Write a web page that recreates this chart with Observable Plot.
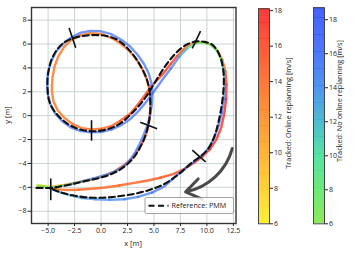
<!DOCTYPE html>
<html><head><meta charset="utf-8">
<script src="https://cdn.jsdelivr.net/npm/d3@7"></script>
<script src="https://cdn.jsdelivr.net/npm/@observablehq/plot@0.6"></script>
<style>
body{margin:0;background:#fff;}
#wrap{position:relative;width:357px;height:254px;overflow:hidden;font-family:"Open Sans",sans-serif;}
#wrap svg{position:absolute;top:0;}
</style></head><body><div id="wrap"></div>
<script>
// Reference PMM path [x, y]
const reference = [[-6.1,-6.05],[-5.4,-6.05],[-4.7,-6.05],[-4.0,-5.95],[-3.0,-5.78],[-2.0,-5.58],[-1.0,-5.38],[0.0,-5.18],[1.0,-4.88],[1.8,-4.52],[2.5,-4.05],[3.1,-3.5],[3.6,-2.8],[4.05,-2.0],[4.35,-1.2],[4.55,-0.4],[4.65,0.45],[4.65,1.35],[4.55,2.25],[4.3,3.1],[3.9,3.9],[3.4,4.65],[2.8,5.35],[2.15,5.95],[1.4,6.42],[0.5,6.68],[-0.4,6.75],[-1.3,6.72],[-2.1,6.62],[-2.75,6.45],[-3.45,6.15],[-4.1,5.6],[-4.6,4.85],[-4.9,4.0],[-5.05,3.1],[-5.05,2.2],[-4.95,1.4],[-4.7,0.8],[-4.3,0.25],[-3.65,-0.35],[-2.9,-0.82],[-2.0,-1.15],[-1.0,-1.3],[0.0,-1.25],[1.0,-1.02],[1.9,-0.6],[2.8,0.1],[3.6,0.85],[4.3,1.65],[4.9,2.5],[5.5,3.38],[6.1,4.2],[6.8,4.98],[7.5,5.6],[8.25,6.02],[9.0,6.22],[9.8,6.18],[10.5,5.95],[11.0,5.42],[11.35,4.7],[11.55,3.8],[11.6,2.8],[11.52,1.7],[11.35,0.6],[11.1,-0.5],[10.8,-1.5],[10.35,-2.45],[9.85,-3.05],[9.25,-3.5],[8.55,-3.95],[7.75,-4.6],[6.85,-5.22],[5.85,-5.78],[4.7,-6.18],[3.5,-6.48],[2.2,-6.68],[1.0,-6.82],[-0.2,-6.88],[-1.4,-6.84],[-2.5,-6.7],[-3.5,-6.5],[-4.2,-6.3],[-4.7,-6.1]];

// Tracked: online replanning [x, y, speed m/s]
const online = [[-6.0,-5.8,6],[-5.4,-5.88,7],[-4.7,-5.95,8.5],[-3.8,-5.85,10],[-2.8,-5.7,11.5],[-1.8,-5.5,12.5],[-0.8,-5.3,13.5],[0.2,-5.05,14],[1.2,-4.7,14.5],[2.1,-4.2,15],[2.9,-3.6,15],[3.5,-2.9,15],[4.0,-2.1,15],[4.35,-1.3,15],[4.55,-0.4,14.5],[4.65,0.5,14.5],[4.65,1.4,14],[4.55,2.3,14],[4.3,3.1,13.5],[3.9,3.9,13.5],[3.35,4.7,13],[2.7,5.4,13],[1.9,6.0,13],[1.0,6.5,13],[0.0,6.85,13],[-1.0,6.9,13],[-1.9,6.75,13],[-2.8,6.35,13],[-3.5,5.75,13],[-4.05,4.95,13],[-4.4,4.1,13],[-4.6,3.1,13],[-4.65,2.1,13],[-4.5,1.2,13],[-4.1,0.45,13],[-3.5,-0.15,13],[-2.7,-0.7,13.5],[-1.8,-1.05,13.5],[-0.9,-1.15,13.5],[0.0,-1.1,14],[0.9,-0.9,14.5],[1.8,-0.45,15],[2.8,0.2,15.5],[3.8,1.3,16],[4.7,2.4,16],[5.3,3.0,16.5],[5.9,3.55,16.5],[6.6,4.35,16],[7.2,5.0,15],[7.8,5.55,13.5],[8.4,5.95,12],[9.0,6.15,11],[9.7,6.15,10.5],[10.4,5.95,11],[11.0,5.45,12.5],[11.45,4.7,14],[11.75,3.7,15.5],[11.85,2.6,16.5],[11.82,1.4,17],[11.65,0.2,17],[11.35,-1.0,17],[10.9,-2.0,17],[10.3,-2.8,16.5],[9.6,-3.4,16],[8.8,-3.95,15.5],[7.9,-4.45,15],[6.8,-4.9,15],[5.6,-5.2,14.5],[4.3,-5.45,14.5],[3.0,-5.65,14.5],[1.7,-5.85,14],[0.4,-6.02,14],[-0.9,-6.12,14],[-2.1,-6.2,13.5],[-3.2,-6.22,13.5],[-4.1,-6.17,13],[-4.8,-6.1,13]];

// Tracked: no online replanning [x, y, speed m/s]
const noReplan = [[-6.0,-5.85,6],[-5.4,-5.93,7.5],[-4.7,-6.0,9],[-3.8,-5.9,11],[-2.86,-5.74,12.5],[-1.8,-5.5,13.5],[-0.8,-5.28,14],[0.3,-5.0,14.5],[1.3,-4.68,15],[2.2,-4.2,15],[2.75,-3.7,15.5],[3.2,-3.1,15.5],[3.65,-2.35,15.5],[4.05,-1.55,15.5],[4.4,-0.75,15.5],[4.65,0.1,15.5],[4.8,0.95,15.5],[4.85,1.85,15.5],[4.75,2.75,15.5],[4.5,3.55,15.5],[4.05,4.35,15.5],[3.45,5.1,15.5],[2.75,5.8,15.5],[1.85,6.4,15.5],[0.9,6.85,15.5],[-0.1,7.08,15.5],[-1.0,7.1,15.5],[-1.9,6.95,15.5],[-2.75,6.6,15.5],[-3.55,6.05,15.5],[-4.25,5.35,15.5],[-4.75,4.5,15.5],[-5.02,3.6,15.5],[-5.1,2.7,15.5],[-5.02,1.8,15.5],[-4.78,0.95,15.5],[-4.35,0.2,15.5],[-3.7,-0.45,15.5],[-2.9,-0.95,15.5],[-2.0,-1.27,15.5],[-1.0,-1.4,15.5],[0.0,-1.37,15.5],[1.0,-1.15,16],[2.0,-0.75,16],[2.8,-0.25,16],[3.5,0.35,16],[4.4,1.3,16],[5.3,2.4,16],[6.0,3.25,16],[6.6,3.95,15],[7.4,4.95,13],[8.15,5.63,10],[8.9,6.05,8],[9.6,6.15,7.5],[10.3,5.98,8],[10.9,5.5,9.5],[11.35,4.7,11],[11.6,3.7,13],[11.7,2.6,14.5],[11.62,1.4,15.5],[11.42,0.3,16],[11.12,-0.8,16],[10.72,-1.8,16],[10.2,-2.7,16],[9.5,-3.38,16],[8.7,-3.92,16],[7.8,-4.5,16],[6.9,-5.2,16],[5.95,-5.95,16],[4.8,-6.45,15.5],[3.5,-6.8,15],[2.2,-7.0,14.5],[0.8,-7.05,14],[-0.5,-7.0,13.5],[-1.8,-6.9,13],[-2.9,-6.68,12.5],[-3.8,-6.45,12],[-4.7,-6.15,11.5]];

// Gates [x1, y1, x2, y2]
const gates = [[-4.75,-5.26,-4.75,-7.08],[3.7,-0.55,5.3,-1.1],[-3.02,7.35,-2.39,5.68],[-0.9,-0.38,-0.9,-2.1],[8.62,5.63,9.4,7.08],[8.62,-2.89,9.88,-3.87]];
// Direction arrow [x1, y1, x2, y2]
const arrows = [[12.4,-2.75,7.99,-6.38]];

const xTicks = [-5,-2.5,0,2.5,5,7.5,10,12.5];
const yTicks = [-8,-6,-4,-2,0,2,4,6,8];
const cbTicks = [6,8,10,12,14,16,18];
const legendLabel = "Reference: PMM";
const cbLabelOnline = "Tracked: Online replanning [m/s]";
const cbLabelNo = "Tracked: No online replanning [m/s]";

const onColor = d3.scaleLinear().domain([6,12,18]).range(["#ffee22","#ff8a22","#ff2424"]).clamp(true);
const noColor = d3.scaleLinear().domain([6,8,10,12,14,16,18.7]).range(["#80e848","#5ce86a","#42e09a","#3cb4cc","#3c8af0","#3a6af8","#3050ff"]).clamp(true);

const toRows = a => a.map(([x,y,v]) => ({x,y,v}));
const ink = "#222";

const main = Plot.plot({
  width: 357, height: 254,
  marginLeft: 31, marginRight: 121.5, marginTop: 7, marginBottom: 31,
  x: {domain: [-6.57, 12.75]},
  y: {domain: [-9.03, 9.06]},
  color: {type: "identity"},
  style: {fontFamily: "Open Sans, sans-serif", background: "transparent"},
  marks: [
    Plot.gridX(xTicks, {stroke: "#b9c5c5", strokeOpacity: 0.75, strokeWidth: 1}),
    Plot.gridY(yTicks, {stroke: "#b9c5c5", strokeOpacity: 0.75, strokeWidth: 1}),
    Plot.line(toRows(online), {x: "x", y: "y", z: null, stroke: d => onColor(d.v), strokeWidth: 2.4, strokeOpacity: 0.85}),
    Plot.line(toRows(noReplan), {x: "x", y: "y", z: null, stroke: d => noColor(d.v), strokeWidth: 2.4, strokeOpacity: 0.72}),
    Plot.line(reference.map(([x,y]) => ({x,y})), {x: "x", y: "y", stroke: "#111", strokeWidth: 2.1, strokeDasharray: "6,3.5", curve: "catmull-rom"}),
    Plot.link(gates, {x1: d => d[0], y1: d => d[1], x2: d => d[2], y2: d => d[3], stroke: "#111", strokeWidth: 1.6}),
    Plot.arrow(arrows, {x1: d => d[0], y1: d => d[1], x2: d => d[2], y2: d => d[3], bend: 32, stroke: "#4a4a4a", strokeWidth: 3, headLength: 9, headAngle: 70}),
    Plot.axisX(xTicks, {tickFormat: d3.format(".1f"), tickSize: 3, tickPadding: 2, fontSize: 7, label: null, stroke: ink, fill: ink}),
    Plot.axisY(yTicks, {tickFormat: d3.format("d"), tickSize: 3.5, tickPadding: 1.5, fontSize: 7, label: null, stroke: ink, fill: ink}),
    Plot.frame({stroke: "#333", strokeWidth: 1.4})
  ]
});
main.style.left = "0px";
const ms = d3.select(main);
ms.append("text").attr("x", 133).attr("y", 246).attr("text-anchor", "middle")
  .attr("font-size", 7.5).attr("fill", ink).text("x [m]");
ms.append("text").attr("transform", "translate(9.5,115) rotate(-90)").attr("text-anchor", "middle")
  .attr("font-size", 7.5).attr("fill", ink).text("y [m]");
// legend
const lg = ms.append("g");
lg.append("rect").attr("x", 145).attr("y", 197.5).attr("width", 88.5).attr("height", 16).attr("rx", 1.5)
  .attr("fill", "#fff").attr("fill-opacity", 0.85).attr("stroke", "#8a8a8a").attr("stroke-width", 0.8);
lg.append("line").attr("x1", 148.5).attr("x2", 168.5).attr("y1", 205.8).attr("y2", 205.8)
  .attr("stroke", "#111").attr("stroke-width", 2).attr("stroke-dasharray", "6,3.5");
lg.append("text").attr("x", 171.5).attr("y", 208.3).attr("text-anchor", "start")
  .attr("font-size", 7.2).attr("fill", ink).text(legendLabel);
document.getElementById("wrap").appendChild(main);

function colorbar(left, top, bottom, domain, colorFn, label, labelX, labelY) {
  const step = 0.1;
  const levels = d3.range(domain[0], domain[1], step);
  const svg = Plot.plot({
    width: 44, height: 254,
    marginLeft: 0, marginRight: 33, marginTop: top, marginBottom: 254 - bottom,
    x: {domain: [0, 1], axis: null},
    y: {domain, axis: null},
    color: {type: "identity"},
    style: {fontFamily: "Open Sans, sans-serif", background: "transparent"},
    marks: [
      Plot.rect(levels, {x1: 0, x2: 1, y1: d => d, y2: d => Math.min(d + step * 1.05, domain[1]), fill: d => colorFn(d + step / 2), fillOpacity: 0.9, shapeRendering: "crispEdges"}),
      Plot.frame({stroke: "#444", strokeWidth: 1}),
      Plot.axisY(cbTicks, {anchor: "right", tickSize: 3, tickPadding: 1.5, fontSize: 7, label: null, stroke: ink, fill: ink})
    ]
  });
  svg.style.left = left + "px";
  d3.select(svg).append("text").attr("transform", `translate(${labelX},${labelY}) rotate(-90)`)
    .attr("text-anchor", "middle").attr("dominant-baseline", "middle").attr("font-size", 7.3).attr("fill", ink).text(label);
  document.getElementById("wrap").appendChild(svg);
}
colorbar(258.3, 8.3, 223.3, [6, 18.1], onColor, cbLabelOnline, 31, 113);
colorbar(313.3, 7.3, 223.3, [6, 18.7], noColor, cbLabelNo, 27, 101);
</script></body></html>
